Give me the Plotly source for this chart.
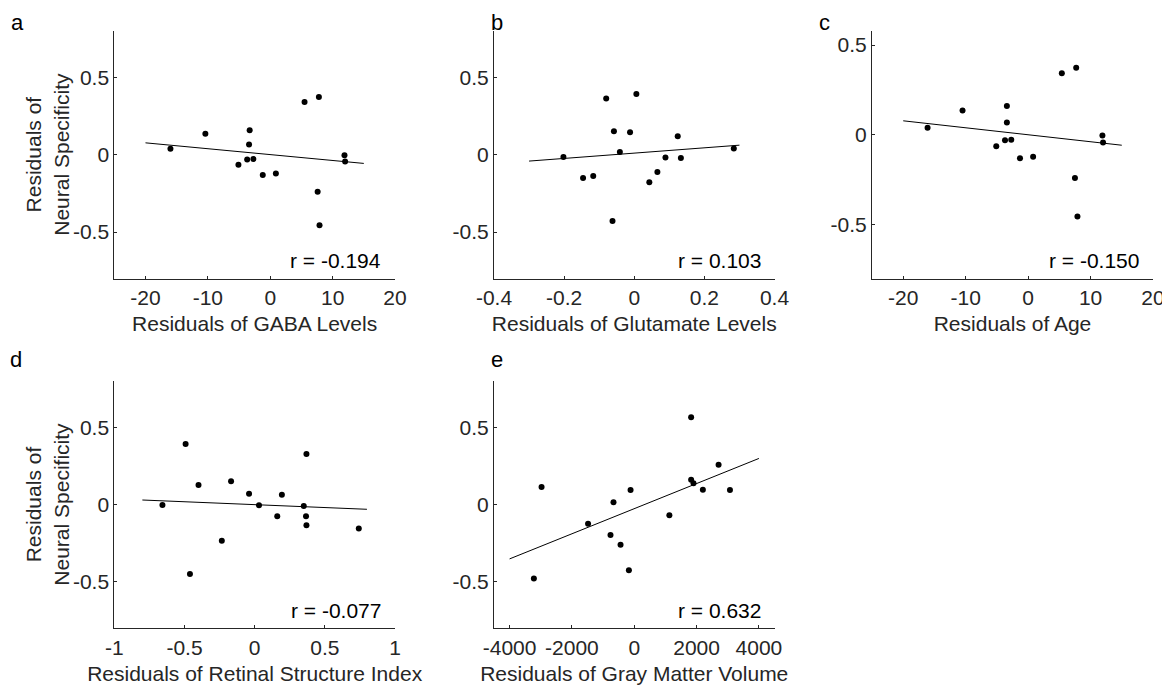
import plotly.graph_objects as go

# ---------------- data ----------------
gaba_x = [-16.0, -10.4, -3.3, -3.4, -3.7, -2.7, -5.1, -1.2, 0.9, 5.5, 7.8, 11.9, 12.0, 7.6, 7.9]
gaba_y = [0.039, 0.135, 0.159, 0.067, -0.030, -0.028, -0.064, -0.131, -0.122, 0.341, 0.373, -0.004, -0.043, -0.240, -0.455]
gaba_fit_x = [-20, 15]
gaba_fit_y = [0.077, -0.056]

glu_x = [-0.202, -0.146, -0.117, -0.080, -0.058, -0.062, -0.041, -0.012, 0.006, 0.043, 0.066, 0.089, 0.124, 0.133, 0.284]
glu_y = [-0.015, -0.150, -0.137, 0.363, 0.152, -0.429, 0.017, 0.146, 0.393, -0.178, -0.112, -0.017, 0.120, -0.021, 0.041]
glu_fit_x = [-0.3, 0.3]
glu_fit_y = [-0.041, 0.062]

age_x = [-16.1, -10.5, -3.4, -3.4, -3.7, -2.7, -5.1, -1.3, 0.8, 5.4, 7.7, 11.9, 12.0, 7.5, 7.9]
age_y = [0.039, 0.136, 0.160, 0.068, -0.030, -0.028, -0.063, -0.130, -0.122, 0.343, 0.373, -0.004, -0.043, -0.240, -0.455]
age_fit_x = [-20, 15]
age_fit_y = [0.078, -0.058]

rsi_x = [-0.657, -0.492, -0.461, -0.400, -0.234, -0.168, -0.040, 0.031, 0.161, 0.194, 0.350, 0.369, 0.366, 0.369, 0.742]
rsi_y = [-0.002, 0.393, -0.449, 0.127, -0.234, 0.152, 0.071, -0.004, -0.075, 0.064, -0.009, 0.328, -0.075, -0.133, -0.155]
rsi_fit_x = [-0.8, 0.8]
rsi_fit_y = [0.030, -0.030]

gmv_x = [-3221, -2974, -1482, -762, -666, -440, -172, -118, 1127, 1825, 1825, 1901, 2201, 2706, 3071]
gmv_y = [-0.477, 0.114, -0.123, -0.196, 0.015, -0.260, -0.424, 0.095, -0.069, 0.566, 0.161, 0.138, 0.097, 0.258, 0.095]
gmv_fit_x = [-4000, 4000]
gmv_fit_y = [-0.351, 0.299]

r_labels = ["r = -0.194", "r = 0.103", "r = -0.150", "r = -0.077", "r = 0.632"]
x_titles = ["Residuals of GABA Levels", "Residuals of Glutamate Levels", "Residuals of Age",
            "Residuals of Retinal Structure Index", "Residuals of Gray Matter Volume"]
panel_letters = ["a", "b", "c", "d", "e"]

x_ticks = [
    [-20, -10, 0, 10, 20],
    [-0.4, -0.2, 0, 0.2, 0.4],
    [-20, -10, 0, 10, 20],
    [-1, -0.5, 0, 0.5, 1],
    [-4000, -2000, 0, 2000, 4000],
]
x_ticktext = [
    ["-20", "-10", "0", "10", "20"],
    ["-0.4", "-0.2", "0", "0.2", "0.4"],
    ["-20", "-10", "0", "10", "20"],
    ["-1", "-0.5", "0", "0.5", "1"],
    ["-4000", "-2000", "0", "2000", "4000"],
]
x_ranges = [[-25, 20], [-0.4, 0.4], [-25, 20], [-1, 1], [-4500, 4500]]
y_ranges = [[-0.8, 0.8], [-0.8, 0.8], [-0.8, 0.578], [-0.8, 0.8], [-0.8, 0.8]]
y_ticks = [-0.5, 0, 0.5]
y_ticktext = ["-0.5", "0", "0.5"]
y_title = "Residuals of<br>Neural Specificity"

# ---------------- layout geometry ----------------
W, H = 1170, 687
OFF = 8  # page body margin
boxes = [  # left, right, top, bottom in screen px
    (114.3, 395.0, 31.0, 278.5),
    (494.0, 774.5, 31.0, 278.5),
    (872.0, 1153.0, 31.0, 278.5),
    (114.3, 395.0, 381.0, 628.3),
    (494.0, 774.5, 381.0, 628.3),
]
letter_pos = [(17, 8), (497, 8), (824, 8), (16, 345), (497, 345)]  # center x, top y

series = [
    (gaba_x, gaba_y, gaba_fit_x, gaba_fit_y),
    (glu_x, glu_y, glu_fit_x, glu_fit_y),
    (age_x, age_y, age_fit_x, age_fit_y),
    (rsi_x, rsi_y, rsi_fit_x, rsi_fit_y),
    (gmv_x, gmv_y, gmv_fit_x, gmv_fit_y),
]

FONT = "Liberation Sans, Arial, Helvetica, sans-serif"
AX = "#262626"
FS = 21

fig = go.Figure()
annotations = []
for i, (sx, sy, fx, fy) in enumerate(series):
    n = "" if i == 0 else str(i + 1)
    xa, ya = "x" + n, "y" + n
    fig.add_trace(go.Scatter(x=fx, y=fy, mode="lines", line=dict(color="black", width=1),
                             xaxis=xa, yaxis=ya, showlegend=False, hoverinfo="skip"))
    fig.add_trace(go.Scatter(x=sx, y=sy, mode="markers", marker=dict(color="black", size=6),
                             xaxis=xa, yaxis=ya, showlegend=False))
    l, r, t, b = [v - OFF for v in boxes[i]]
    common = dict(showline=True, linecolor=AX, linewidth=1, ticks="inside", ticklen=3,
                  tickcolor=AX, tickwidth=1, showgrid=False, zeroline=False,
                  tickfont=dict(family=FONT, size=FS, color=AX), automargin=False)
    fig.layout["xaxis" + n] = dict(
        domain=[l / W, r / W], anchor=ya, range=x_ranges[i],
        tickmode="array", tickvals=x_ticks[i], ticktext=x_ticktext[i],
        title=dict(text=x_titles[i], font=dict(family=FONT, size=FS, color=AX), standoff=8),
        **common)
    fig.layout["yaxis" + n] = dict(
        domain=[1 - b / H, 1 - t / H], anchor=xa, range=y_ranges[i],
        tickmode="array", tickvals=y_ticks, ticktext=y_ticktext,
        **common)
    annotations.append(dict(text=r_labels[i], xref=xa + " domain", yref=ya + " domain",
                            x=0.958, y=0.072, xanchor="right", yanchor="middle", showarrow=False,
                            font=dict(family=FONT, size=FS, color="black")))
    lx, ly = letter_pos[i]
    annotations.append(dict(text=panel_letters[i], xref="paper", yref="paper",
                            x=(lx - OFF) / W, y=min(1.0, 1 - (ly - OFF) / H),
                            xanchor="center", yanchor="top",
                            showarrow=False, font=dict(family=FONT, size=22, color="black")))
    if i in (0, 3):
        annotations.append(dict(text=y_title, xref="paper", yref=ya + " domain",
                                x=(47 - OFF) / W, y=0.5, xanchor="center", yanchor="middle",
                                textangle=-90, showarrow=False,
                                font=dict(family=FONT, size=FS, color=AX)))

fig.update_layout(width=W, height=H, margin=dict(l=0, r=0, t=0, b=0),
                  paper_bgcolor="white", plot_bgcolor="white",
                  annotations=annotations, showlegend=False)
fig.write_html("out.html")
